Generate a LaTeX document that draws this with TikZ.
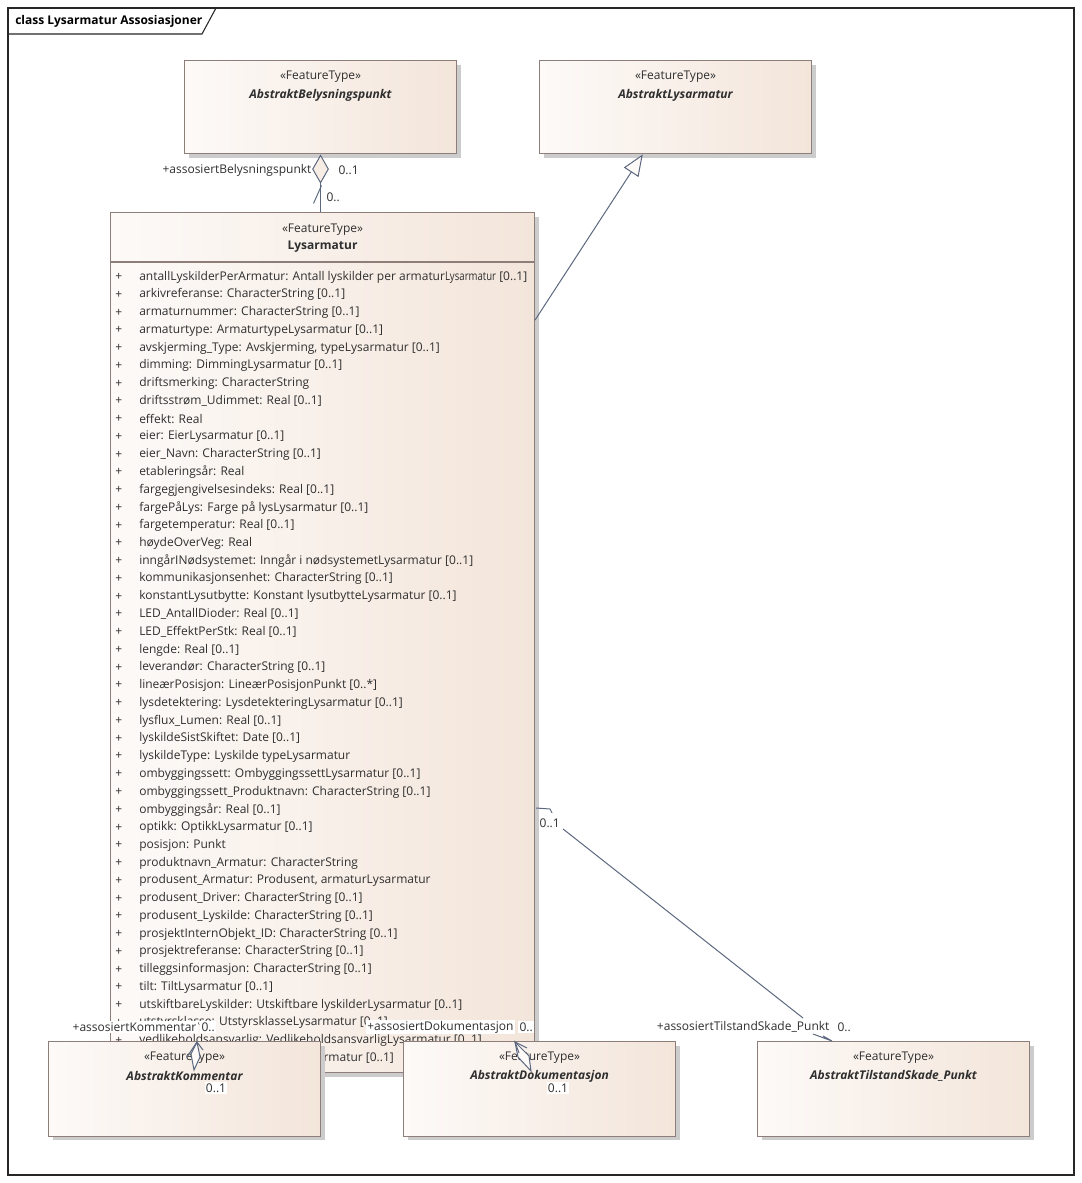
\documentclass[tikz,border=0pt]{standalone}
\usepackage{fontspec}
\setmainfont{Open Sans}
\usepackage{graphicx}
\usetikzlibrary{positioning,calc,shadows,arrows.meta}

\definecolor{clsline}{HTML}{8E7E7A}
\definecolor{clsleft}{HTML}{FDFAF8}
\definecolor{clsright}{HTML}{F3E5DA}
\definecolor{conline}{HTML}{5C6880}
\definecolor{txtgray}{HTML}{2F2F2F}

\tikzset{
  cls/.style={draw=clsline, line width=0.8pt, left color=clsleft, right color=clsright, anchor=north west, inner sep=0pt,
    drop shadow={shadow xshift=3pt, shadow yshift=-3pt, fill=black!20, opacity=1}},
  stereo/.style={font=\fontsize{9}{10}\selectfont, text=txtgray, inner sep=0pt},
  clsname/.style={font=\fontsize{9}{10}\selectfont\bfseries\itshape, text=txtgray, inner sep=0pt},
  attr/.style={anchor=west, font=\fontsize{9}{10}\selectfont, text=txtgray, inner sep=0pt},
  conn/.style={draw=conline, line width=0.75pt},
  role/.style={font=\fontsize{9}{10}\selectfont, text=txtgray, inner sep=1pt},
  rolebg/.style={role, fill=white},
}

\begin{document}
\begin{tikzpicture}[x=0.75pt, y=-0.75pt]
\useasboundingbox[fill=white] (0,0) rectangle (1082,1183);

% diagram frame
\draw[black!85, line width=0.8pt] (8,8) rectangle (1074,1175);
\draw[black!85, line width=0.8pt] (8,34) -- (202,34) -- (216,8);
\node[anchor=west, font=\fontsize{9}{10}\selectfont\bfseries, inner sep=0pt] (title) at (15,21) {class Lysarmatur Assosiasjoner};

% upper classes
\node[cls, minimum width=204pt, minimum height=70pt] (bel) at (184,60) {};
\node[stereo] at ($(bel.north)+(0,17)$) {«FeatureType»};
\node[clsname] at ($(bel.north)+(0,35)$) {AbstraktBelysningspunkt};

\node[cls, minimum width=204pt, minimum height=70pt] (abl) at (539,60) {};
\node[stereo] at ($(abl.north)+(0,17)$) {«FeatureType»};
\node[clsname] at ($(abl.north)+(0,35)$) {AbstraktLysarmatur};

% Lysarmatur
\node[cls, minimum width=318pt, minimum height=645pt] (lys) at (110,212) {};
\node[stereo] at ($(lys.north)+(0,18)$) {«FeatureType»};
\node[clsname, font=\fontsize{9}{10}\selectfont\bfseries] at ($(lys.north)+(0,35)$) {Lysarmatur};
\draw[clsline, line width=0.8pt] ($(lys.north west)+(0,50)$) -- ($(lys.north east)+(0,50)$);
\foreach \a [count=\i] in {
  antallLyskilderPerArmatur: Antall lyskilder per armatur\scalebox{0.8}[1]{Lysarmatur} [0..1],
  arkivreferanse: CharacterString [0..1],
  armaturnummer: CharacterString [0..1],
  armaturtype: ArmaturtypeLysarmatur [0..1],
  {avskjerming\_Type: Avskjerming, typeLysarmatur [0..1]},
  dimming: DimmingLysarmatur [0..1],
  driftsmerking: CharacterString,
  driftsstrøm\_Udimmet: Real [0..1],
  effekt: Real,
  eier: EierLysarmatur [0..1],
  eier\_Navn: CharacterString [0..1],
  etableringsår: Real,
  fargegjengivelsesindeks: Real [0..1],
  fargePåLys: Farge på lysLysarmatur [0..1],
  fargetemperatur: Real [0..1],
  høydeOverVeg: Real,
  inngårINødsystemet: Inngår i nødsystemetLysarmatur [0..1],
  kommunikasjonsenhet: CharacterString [0..1],
  konstantLysutbytte: Konstant lysutbytteLysarmatur [0..1],
  LED\_AntallDioder: Real [0..1],
  LED\_EffektPerStk: Real [0..1],
  lengde: Real [0..1],
  leverandør: CharacterString [0..1],
  lineærPosisjon: LineærPosisjonPunkt [0..*],
  lysdetektering: LysdetekteringLysarmatur [0..1],
  lysflux\_Lumen: Real [0..1],
  lyskildeSistSkiftet: Date [0..1],
  lyskildeType: Lyskilde typeLysarmatur,
  ombyggingssett: OmbyggingssettLysarmatur [0..1],
  ombyggingssett\_Produktnavn: CharacterString [0..1],
  ombyggingsår: Real [0..1],
  optikk: OptikkLysarmatur [0..1],
  posisjon: Punkt,
  produktnavn\_Armatur: CharacterString,
  {produsent\_Armatur: Produsent, armaturLysarmatur},
  produsent\_Driver: CharacterString [0..1],
  produsent\_Lyskilde: CharacterString [0..1],
  prosjektInternObjekt\_ID: CharacterString [0..1],
  prosjektreferanse: CharacterString [0..1],
  tilleggsinformasjon: CharacterString [0..1],
  tilt: TiltLysarmatur [0..1],
  utskiftbareLyskilder: Utskiftbare lyskilderLysarmatur [0..1],
  utstyrsklasse: UtstyrsklasseLysarmatur [0..1],
  vedlikeholdsansvarlig: VedlikeholdsansvarligLysarmatur [0..1],
  virkningsgrad: VirkningsgradLysarmatur [0..1]}
{
  \node[attr] at (115,{277+17.756*(\i-1)}) {+};
  \node[attr] at (139,{277+17.756*(\i-1)}) {\a};
}

% associations to the upper classes
\draw[conn, {Diamond[length=22pt, width=12.5pt, fill=clsright!70!white]}-] (bel.south) -- (bel.south |- lys.north);
\draw[conn] ($(bel.south)+(1,31)$) -- ++(-8,18);
\node[role, anchor=east] at (313,170) {+assosiertBelysningspunkt};
\node[role, anchor=west] at (337,170) {0..1};
\node[role, anchor=west] at (325,197) {0..};

\draw[conn, -{Triangle[length=16pt, width=13pt, fill=clsleft]}] ($(lys.north east)+(0,108)$) -- ($(abl.south west)!0.38!(abl.south east)$);

% lower classes
\node[cls, minimum width=204pt, minimum height=71pt] (kom) at (48,1041) {};
\node[stereo] at ($(kom.north)+(0,17)$) {«FeatureType»};
\node[clsname] at ($(kom.north)+(0,35)$) {AbstraktKommentar};

\node[cls, minimum width=204pt, minimum height=71pt] (dok) at (403,1041) {};
\node[stereo] at ($(dok.north)+(0,17)$) {«FeatureType»};
\node[clsname] at ($(dok.north)+(0,35)$) {AbstraktDokumentasjon};

\node[cls, minimum width=204pt, minimum height=71pt] (tsp) at (757,1041) {};
\node[stereo] at ($(tsp.north)+(0,17)$) {«FeatureType»};
\node[clsname] at ($(tsp.north)+(0,35)$) {AbstraktTilstandSkade\_Punkt};

% association to AbstraktTilstandSkade_Punkt
\draw[conn] ($(lys.north east)+(1,596)$) -- ++(14,1) -- ++(2,4);
\node[role, anchor=west] at ($(lys.north east)+(3,611)$) {0..1};
\draw[conn] ($(lys.north east)+(28,617)$) -- ($(tsp.north west)+(46,-23)$);
\draw[conn] ($(tsp.north west)+(56,-7)$) -- ($(tsp.north west)+(75,0)$) -- ++(-9,-5);
\node[role, anchor=east] at (831,1027) {+assosiertTilstandSkade\_Punkt};
\node[role, anchor=west] at (836,1027) {0..};

% aggregations to AbstraktKommentar and AbstraktDokumentasjon
\draw[conn, fill=clsleft] ($(kom.north west)+(149,1)$) -- ++(3,15) -- ++(-6,13) -- ++(-3,-16) -- cycle;
\draw[conn] ($(kom.north west)+(149,1)$) -- ++(-10,15);
\draw[conn] ($(kom.north west)+(149,1)$) -- ++(6,8);
\node[rolebg, anchor=east] at (198,1027) {+assosiertKommentar};
\node[rolebg, anchor=west] at (200,1027) {0..};
\node[rolebg] at ($(kom.north west)+(168,47)$) {0..1};

\draw[conn, fill=clsleft] ($(dok.north west)+(112,1)$) -- ++(14,14) -- ++(2,15) -- ++(-13,-14) -- cycle;
\draw[conn] ($(dok.north west)+(112,1)$) -- ++(12,6);
\draw[conn] ($(dok.north west)+(112,1)$) -- ++(4,11);
\node[rolebg, anchor=east] at (515,1027) {+assosiertDokumentasjon};
\node[rolebg, anchor=west] at (518,1027) {0..};
\node[rolebg] at ($(dok.north west)+(155,47)$) {0..1};
\end{tikzpicture}
\end{document}
